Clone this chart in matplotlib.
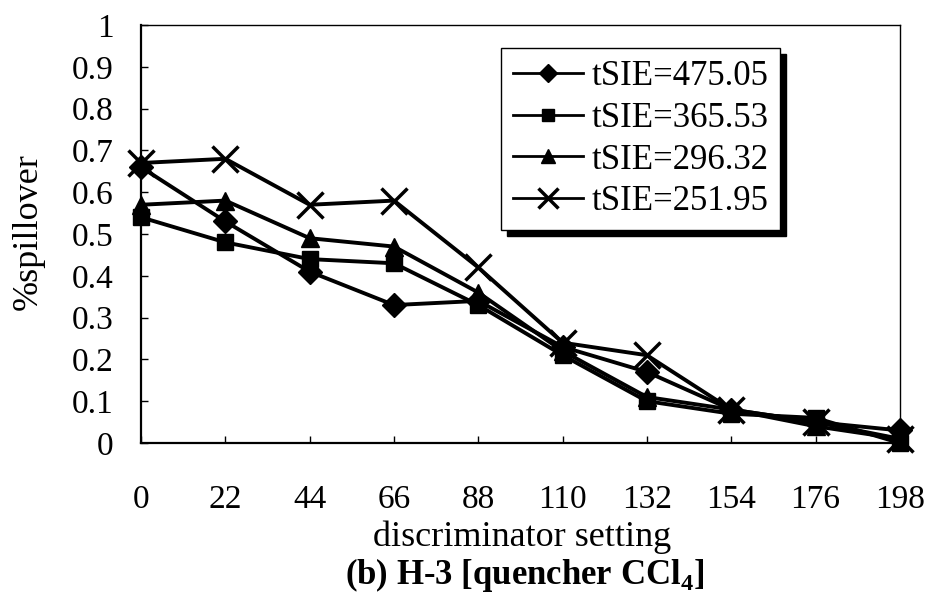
import matplotlib
matplotlib.use("Agg")
import matplotlib.pyplot as plt
from matplotlib.lines import Line2D

plt.rcParams['font.family'] = ['Liberation Serif', 'DejaVu Serif']
plt.rcParams['mathtext.fontset'] = 'custom'
plt.rcParams['mathtext.rm'] = 'Liberation Serif'
plt.rcParams['mathtext.bf'] = 'Liberation Serif:bold'

# ---- data ----
settings = ['0', '22', '44', '66', '88', '110', '132', '154', '176', '198']
series_names = ['tSIE=475.05', 'tSIE=365.53', 'tSIE=296.32', 'tSIE=251.95']
tsie_475 = [0.66, 0.53, 0.41, 0.33, 0.34, 0.23, 0.17, 0.08, 0.05, 0.03]
tsie_365 = [0.54, 0.48, 0.44, 0.43, 0.33, 0.21, 0.10, 0.07, 0.06, 0.00]
tsie_296 = [0.57, 0.58, 0.49, 0.47, 0.36, 0.22, 0.11, 0.08, 0.04, 0.01]
tsie_251 = [0.67, 0.68, 0.57, 0.58, 0.42, 0.24, 0.21, 0.08, 0.05, 0.01]

fig = plt.figure(figsize=(9.31, 5.97), dpi=100)
ax = fig.add_axes([0.1515, 0.258, 0.815, 0.700])

styles = [
    dict(marker='D', ms=12),
    dict(marker='s', ms=12),
    dict(marker='^', ms=13),
    dict(marker='x', ms=19, mew=2.5),
]
x = list(range(len(settings)))
for vals, st in zip([tsie_475, tsie_365, tsie_296, tsie_251], styles):
    ax.plot(x, vals, color='black', lw=2.8, clip_on=False, **st)

ax.set_xlim(0, len(settings) - 1)
ax.set_ylim(0, 1)
ax.set_xticks(x)
ax.set_xticklabels(settings)
yt = [i / 10 for i in range(11)]
ax.set_yticks(yt)
ax.set_yticklabels(['0' if v == 0 else ('1' if v == 1 else f'{v:.1f}') for v in yt])
ax.tick_params(axis='both', direction='in', length=5, width=1, labelsize=24)
ax.tick_params(axis='x', pad=30)
ax.tick_params(axis='y', pad=20)
for s in ax.spines.values():
    s.set_linewidth(1.0)
ax.spines['left'].set_linewidth(1.6)
ax.spines['bottom'].set_linewidth(1.6)

handles = [Line2D([0], [0], color='black', lw=2, **st) for st in styles]
for h in handles:
    h.set_markersize(h.get_markersize() * 0.75)
leg = ax.legend(handles, series_names, loc='upper left',
                bbox_to_anchor=(501 / 931, 1 - 48 / 597), bbox_transform=fig.transFigure,
                fontsize=25, frameon=True, fancybox=False, edgecolor='black',
                shadow={'color': 'black', 'alpha': 1.0, 'ox': 4, 'oy': -4},
                handlelength=2.0, handletextpad=0.25, labelspacing=0.25,
                borderpad=0.35, borderaxespad=0)
leg.get_frame().set_linewidth(1.0)

fig.text(28 / 931, 1 - 232 / 597, '%spillover', fontsize=26, rotation=90,
         ha='center', va='center')
fig.text(522 / 931, 1 - 537 / 597, 'discriminator setting', fontsize=26,
         ha='center', va='center')
fig.text(525 / 931, 1 - 575 / 597, r'(b) H-3 [quencher CCl$_\mathbf{4}$]', fontsize=25,
         ha='center', va='center', fontweight='bold')

fig.savefig('out.png', dpi=100, facecolor='white')
